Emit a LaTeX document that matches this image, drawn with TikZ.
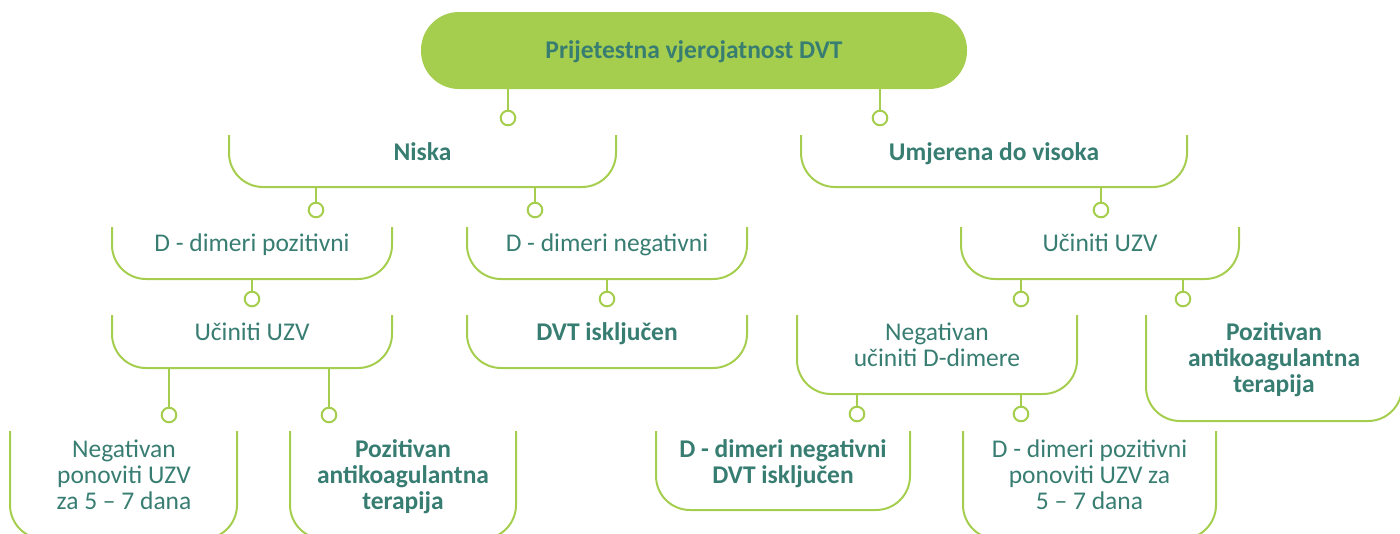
\documentclass[tikz,border=0pt]{standalone}
\usepackage{fontspec}
\setmainfont{Carlito}
\definecolor{lgreen}{RGB}{166,206,78}
\definecolor{teal}{RGB}{56,125,114}
\newcommand{\tl}[1]{\begin{tabular}[t]{@{}c@{}}#1\end{tabular}}
\tikzset{
  uline/.style={draw=lgreen, line width=2pt, rounded corners=34pt},
  area/.style={shape=rectangle, inner sep=0pt, outer sep=0pt},
  lbl/.style={anchor=base, inner sep=0pt, text=teal, font=\fontsize{25.5}{26}\selectfont},
  blbl/.style={lbl, font=\fontsize{25.5}{26}\selectfont\bfseries},
  dot/.style={circle, draw=lgreen, line width=2pt, fill=white, minimum size=14.6pt, inner sep=0pt},
  conn/.style={draw=lgreen, line width=2pt},
  pill/.style={shape=rectangle, fill=lgreen, rounded corners=38pt, inner sep=0pt}
}
\newcommand{\ubox}[5]{%
  \node[area, minimum width={(#4-#2)*1pt}, minimum height={(#5-#3)*1pt}] (#1) at ({(#2+#4)/2},{(#3+#5)/2}) {};
  \draw[uline] (#1.north west) -- (#1.south west) -- (#1.south east) -- (#1.north east);
}
\begin{document}
\begin{tikzpicture}[x=1pt,y=-1pt]
\useasboundingbox (0,0) rectangle (1400,533);
% top pill
\node[pill, minimum width=546pt, minimum height=77pt] (top) at (694,50.5) {};
\node[blbl] (topT) at (694,58) {Prijetestna vjerojatnost DVT};
% boxes
\ubox{niska}{229}{135}{616}{187}
\ubox{umj}{801}{135}{1187}{187}
\ubox{dpos}{112}{227}{392}{279}
\ubox{dneg}{467}{227}{747}{279}
\ubox{uzvR}{961}{227}{1239}{279}
\ubox{uzvL}{112}{315}{392}{368}
\ubox{dvt}{467}{315}{747}{368}
\ubox{negD}{797}{315}{1077}{394}
\ubox{pozR}{1146}{315}{1402}{421}
\ubox{negL}{10}{431}{237}{539}
\ubox{pozL}{290}{431}{516}{539}
\ubox{dnd}{656}{431}{910}{510}
\ubox{dpp}{963}{431}{1216}{539}
% labels
\node[blbl] (niskaT) at (422.5,160) {Niska};
\node[blbl] (umjT) at (994,160) {Umjerena do visoka};
\node[lbl] (dposT) at (252,251) {D - dimeri pozitivni};
\node[lbl] (dnegT) at (607,251) {D - dimeri negativni};
\node[lbl] (uzvRT) at (1100,251) {Učiniti UZV};
\node[lbl] (uzvLT) at (252,340) {Učiniti UZV};
\node[blbl] (dvtT) at (607,340) {DVT isključen};
\node[lbl] (negDT) at (937,340) {\tl{Negativan\\učiniti D-dimere}};
\node[blbl] (pozRT) at (1274,340) {\tl{Pozitivan\\antikoagulantna\\terapija}};
\node[lbl] (negLT) at (124,457) {\tl{Negativan\\ponoviti UZV\\za 5 – 7 dana}};
\node[blbl] (pozLT) at (403,457) {\tl{Pozitivan\\antikoagulantna\\terapija}};
\node[blbl] (dndT) at (783,457) {\tl{D - dimeri negativni\\DVT isključen}};
\node[lbl] (dppT) at (1089.5,457) {\tl{D - dimeri pozitivni\\ponoviti UZV za\\5 – 7 dana}};
% connector dots
\node[dot] (c1) at (508,118) {};
\node[dot] (c2) at (880,118) {};
\node[dot] (c3) at (316,210) {};
\node[dot] (c4) at (535,210) {};
\node[dot] (c5) at (1101,210) {};
\node[dot] (c6) at (252,299) {};
\node[dot] (c7) at (607,299) {};
\node[dot] (c8) at (1021,299) {};
\node[dot] (c9) at (1183,299) {};
\node[dot] (c10) at (169,415) {};
\node[dot] (c11) at (329,415) {};
\node[dot] (c12) at (857,414) {};
\node[dot] (c13) at (1021,414) {};
% connectors
\draw[conn] (top.south -| c1) -- (c1.north);
\draw[conn] (top.south -| c2) -- (c2.north);
\draw[conn] (niska.south -| c3) -- (c3.north);
\draw[conn] (niska.south -| c4) -- (c4.north);
\draw[conn] (umj.south -| c5) -- (c5.north);
\draw[conn] (dpos.south -| c6) -- (c6.north);
\draw[conn] (dneg.south -| c7) -- (c7.north);
\draw[conn] (uzvR.south -| c8) -- (c8.north);
\draw[conn] (uzvR.south -| c9) -- (c9.north);
\draw[conn] (uzvL.south -| c10) -- (c10.north);
\draw[conn] (uzvL.south -| c11) -- (c11.north);
\draw[conn] (negD.south -| c12) -- (c12.north);
\draw[conn] (negD.south -| c13) -- (c13.north);
\end{tikzpicture}
\end{document}
